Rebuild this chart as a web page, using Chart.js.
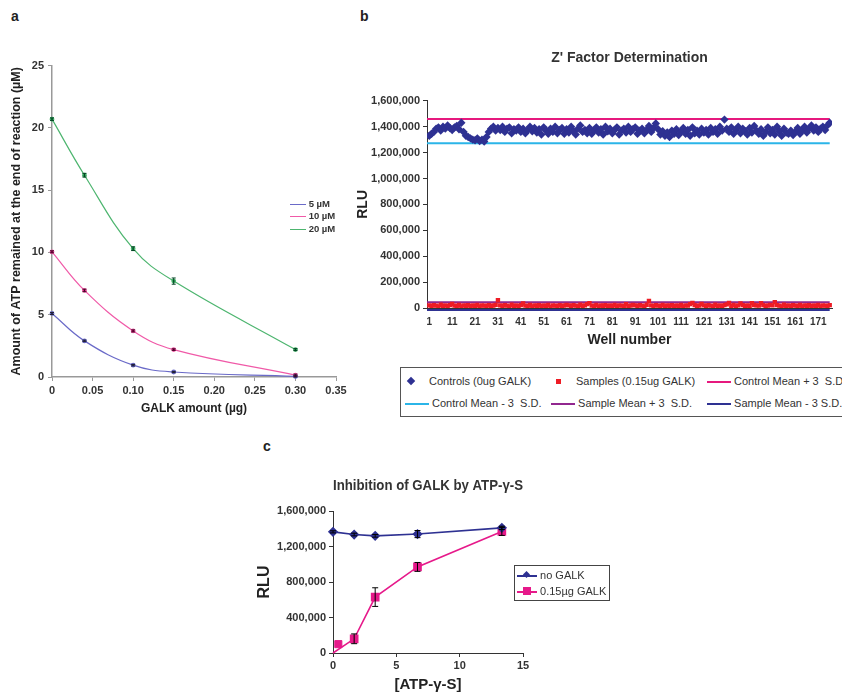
<!DOCTYPE html>
<html>
<head>
<meta charset="utf-8">
<script src="https://cdn.jsdelivr.net/npm/chart.js@4.4.1/dist/chart.umd.min.js"></script>
<style>
body{margin:0;width:842px;height:694px;position:relative;overflow:hidden;background:#fff;font-family:"Liberation Sans",Arial,sans-serif;color:#222}
.box{position:absolute}
.tag{position:absolute;font-weight:bold;font-size:14px;color:#222}
.lg{position:absolute;font-size:11px;color:#333;white-space:nowrap}
.lg .it{position:absolute;height:14px;line-height:14px}
.ln{display:inline-block;vertical-align:middle;height:2px}
.mk{position:absolute}
</style>
</head>
<body>
<div class="tag" style="left:11px;top:8px">a</div>
<div class="tag" style="left:360px;top:8px">b</div>
<div class="tag" style="left:263px;top:438px">c</div>

<div class="box" style="left:0;top:55px;width:350px;height:365px"><canvas id="chartA"></canvas></div>
<div class="box" style="left:350px;top:40px;width:492px;height:318px"><canvas id="chartB"></canvas></div>
<div class="box" style="left:250px;top:465px;width:285px;height:229px"><canvas id="chartC"></canvas></div>

<!-- legend a -->
<div class="lg" style="left:290px;top:197px;font-size:9.5px;font-weight:bold">
  <div class="it" style="left:0;top:0"><span class="ln" style="width:16px;height:1px;background:#6a6ac8"></span> 5 µM</div>
  <div class="it" style="left:0;top:12px"><span class="ln" style="width:16px;height:1px;background:#f05aa8"></span> 10 µM</div>
  <div class="it" style="left:0;top:25px"><span class="ln" style="width:16px;height:1px;background:#4db56f"></span> 20 µM</div>
</div>

<!-- legend b -->
<div class="lg" style="left:400px;top:367px;width:460px;height:48px;border:1px solid #555">
  <div class="it" style="left:6px;top:6px"><span class="mk" style="left:1px;top:4px;width:6px;height:6px;background:#2e3192;transform:rotate(45deg)"></span><span style="margin-left:22px">Controls (0ug GALK)</span></div>
  <div class="it" style="left:153px;top:6px"><span class="mk" style="left:2px;top:5px;width:5px;height:5px;background:#ee1c25"></span><span style="margin-left:22px">Samples (0.15ug GALK)</span></div>
  <div class="it" style="left:306px;top:6px"><span class="ln" style="width:24px;background:#e6197e"></span> Control Mean + 3&nbsp; S.D.</div>
  <div class="it" style="left:4px;top:28px"><span class="ln" style="width:24px;background:#2bb5e8"></span> Control Mean - 3&nbsp; S.D.</div>
  <div class="it" style="left:150px;top:28px"><span class="ln" style="width:24px;background:#92278f"></span> Sample Mean + 3&nbsp; S.D.</div>
  <div class="it" style="left:306px;top:28px"><span class="ln" style="width:24px;background:#2e3192"></span> Sample Mean - 3 S.D.</div>
</div>

<!-- legend c -->
<div class="lg" style="left:514px;top:565px;width:94px;height:34px;border:1px solid #444">
  <div class="it" style="left:2px;top:2px"><span class="ln" style="width:20px;background:#2e3192"></span><span class="mk" style="left:7px;top:4px;width:5px;height:5px;background:#2e3192;transform:rotate(45deg)"></span> no GALK</div>
  <div class="it" style="left:2px;top:18px"><span class="ln" style="width:20px;background:#e6198a"></span><span class="mk" style="left:6px;top:3px;width:8px;height:8px;background:#e6198a"></span> 0.15µg GALK</div>
</div>

<script>
// ---- panel a
const galkAmount = [0, 0.04, 0.1, 0.15, 0.3];
const atp5 = [5.1, 2.9, 0.95, 0.4, 0.05];
const atp10 = [10.05, 6.95, 3.7, 2.2, 0.15];
const atp20 = [20.7, 16.2, 10.3, 7.7, 2.2];
const err5 = [0.08, 0.06, 0.06, 0.05, 0.05];
const err10 = [0.08, 0.1, 0.08, 0.06, 0.08];
const err20 = [0.1, 0.15, 0.15, 0.25, 0.08];

// ---- panel b
const wellSpan = [0, 176];
const controls = [
  1330000,1345000,1360000,1385000,1395000,1370000,1400000,1385000,1410000,1390000,
  1375000,1395000,1405000,1380000,1430000,1360000,1330000,1320000,1310000,1300000,
  1295000,1310000,1290000,1300000,1285000,1320000,1360000,1385000,1400000,1370000,
  1390000,1375000,1400000,1360000,1385000,1395000,1350000,1380000,1370000,1395000,
  1360000,1385000,1350000,1375000,1400000,1365000,1390000,1355000,1380000,1340000,
  1395000,1370000,1345000,1385000,1360000,1400000,1350000,1375000,1390000,1345000,
  1380000,1355000,1400000,1365000,1340000,1385000,1410000,1360000,1375000,1350000,
  1390000,1345000,1370000,1395000,1355000,1380000,1340000,1400000,1365000,1385000,
  1350000,1375000,1395000,1340000,1370000,1385000,1355000,1400000,1360000,1380000,
  1395000,1345000,1370000,1385000,1350000,1375000,1405000,1360000,1390000,1425000,
  1380000,1340000,1365000,1330000,1355000,1320000,1370000,1345000,1380000,1335000,
  1360000,1390000,1345000,1375000,1330000,1395000,1350000,1370000,1340000,1385000,
  1355000,1375000,1340000,1390000,1360000,1380000,1345000,1400000,1370000,1455000,
  1385000,1360000,1395000,1345000,1375000,1400000,1350000,1385000,1365000,1340000,
  1390000,1355000,1405000,1370000,1345000,1380000,1330000,1360000,1395000,1350000,
  1375000,1340000,1400000,1365000,1330000,1385000,1355000,1345000,1370000,1335000,
  1360000,1390000,1345000,1375000,1400000,1355000,1385000,1410000,1370000,1395000,
  1360000,1385000,1400000,1375000,1410000,1430000
];
const samples = [
  20000,15000,22000,18000,12000,25000,16000,20000,14000,22000,
  32000,18000,15000,24000,12000,20000,17000,22000,14000,19000,
  16000,23000,12000,20000,18000,15000,22000,14000,19000,24000,
  60000,20000,15000,22000,18000,12000,25000,16000,20000,14000,
  22000,35000,18000,15000,24000,12000,20000,17000,22000,14000,
  19000,16000,23000,8000,20000,18000,15000,22000,14000,19000,
  24000,20000,15000,22000,18000,12000,25000,16000,20000,30000,
  38000,18000,15000,24000,12000,20000,17000,22000,14000,19000,
  16000,23000,12000,20000,18000,15000,30000,14000,19000,24000,
  20000,15000,22000,18000,12000,25000,55000,20000,14000,22000,
  18000,15000,24000,12000,20000,17000,22000,14000,19000,16000,
  23000,12000,20000,18000,30000,40000,22000,14000,19000,32000,
  20000,15000,22000,18000,12000,25000,16000,20000,14000,22000,
  28000,40000,15000,24000,12000,20000,35000,22000,14000,19000,
  16000,38000,23000,20000,18000,38000,22000,14000,19000,24000,
  20000,45000,22000,18000,12000,25000,16000,20000,14000,22000,
  18000,15000,24000,12000,20000,17000,22000,14000,19000,16000,
  23000,12000,20000,18000,15000,22000
];
const ctrlPlus3SD = 1460000;
const ctrlMinus3SD = 1272000;
const smplPlus3SD = 44000;
const smplMinus3SD = -16000;
const wellTicks = [1, 11, 21, 31, 41, 51, 61, 71, 81, 91, 101, 111, 121, 131, 141, 151, 161, 171];

// ---- panel c
const atpGS = [0, 1.67, 3.33, 6.67, 13.33];
const noGalk = [1365000, 1335000, 1320000, 1340000, 1410000];
const noGalkErr = [12000, 15000, 15000, 40000, 18000];
const galk015 = [0, 160000, 630000, 970000, 1370000];
const galk015Err = [0, 55000, 105000, 50000, 45000];
const strayX = [0.42];
const strayY = [100000];

Chart.defaults.font.family = '"Liberation Sans", Arial, sans-serif';
Chart.defaults.color = '#333';
Chart.defaults.animation = false;

const errorBars = {
  id: 'errorBars',
  afterDatasetsDraw(chart) {
    const ctx = chart.ctx;
    const ys = chart.scales.y;
    chart.data.datasets.forEach((ds, i) => {
      if (!ds.err) return;
      const meta = chart.getDatasetMeta(i);
      ctx.save();
      ctx.strokeStyle = ds.errColor || '#000';
      ctx.lineWidth = ds.errWidth || 1;
      meta.data.forEach((pt, j) => {
        const e = ds.err[j];
        if (!e) return;
        const v = ds.data[j].y;
        const top = ys.getPixelForValue(v + e);
        const bot = ys.getPixelForValue(v - e);
        const w = ds.capWidth || 2;
        ctx.beginPath();
        ctx.moveTo(pt.x, top); ctx.lineTo(pt.x, bot);
        ctx.moveTo(pt.x - w, top); ctx.lineTo(pt.x + w, top);
        ctx.moveTo(pt.x - w, bot); ctx.lineTo(pt.x + w, bot);
        ctx.stroke();
      });
      ctx.restore();
    });
  }
};

function pts(xs, ys) {
  return xs.map((x, i) => ({ x: x, y: ys[i] }));
}

// ---------- chart a
new Chart(document.getElementById('chartA'), {
  type: 'line',
  data: {
    datasets: [
      { label: '5 µM', data: pts(galkAmount, atp5), err: err5, errColor: '#223', borderColor: '#6a6ac8', backgroundColor: '#2d2d8f', borderWidth: 1.2, pointRadius: 1.8, tension: 0.4, clip: false },
      { label: '10 µM', data: pts(galkAmount, atp10), err: err10, errColor: '#402', borderColor: '#f05aa8', backgroundColor: '#c8106e', borderWidth: 1.2, pointRadius: 1.8, tension: 0.4, clip: false },
      { label: '20 µM', data: pts(galkAmount, atp20), err: err20, errColor: '#042', borderColor: '#4db56f', backgroundColor: '#1e8c4a', borderWidth: 1.2, pointRadius: 1.8, tension: 0.4, clip: false }
    ]
  },
  options: {
    responsive: true, maintainAspectRatio: false,
    layout: { padding: { left: 0, right: 14, top: 7, bottom: 0 } },
    plugins: { legend: { display: false }, tooltip: { enabled: false } },
    scales: {
      x: {
        type: 'linear', min: 0, max: 0.35,
        ticks: { stepSize: 0.05, padding: 3, font: { size: 11, weight: 'bold' }, color: '#333' },
        grid: { drawOnChartArea: false, tickLength: 4, color: '#999' },
        border: { color: '#999', width: 1.5 },
        title: { display: true, text: 'GALK amount (µg)', font: { size: 12, weight: 'bold' }, color: '#222', padding: { top: 0, bottom: 4 } },
        afterFit: s => { s.height = 43; }
      },
      y: {
        min: 0, max: 25,
        ticks: { stepSize: 5, padding: 4, font: { size: 11, weight: 'bold' }, color: '#333' },
        grid: { drawOnChartArea: false, tickLength: 4, color: '#999' },
        border: { color: '#999', width: 1.5 },
        title: { display: true, text: 'Amount of ATP remained at the end of reaction (µM)', font: { size: 12.5, weight: 'bold' }, color: '#222', padding: { top: 9, bottom: 0 } },
        afterFit: s => { s.width = 52; }
      }
    }
  },
  plugins: [errorBars]
});

// ---------- chart b
const hline = v => wellSpan.map(x => ({ x: x, y: v }));
new Chart(document.getElementById('chartB'), {
  type: 'scatter',
  data: {
    datasets: [
      { label: 'Controls (0ug GALK)', data: controls.map((v, i) => ({ x: i + 1, y: v })), pointStyle: 'rectRot', pointRadius: 4.2, backgroundColor: '#2e3192', borderColor: '#2e3192', borderWidth: 0, order: 1 },
      { label: 'Samples (0.15ug GALK)', data: samples.map((v, i) => ({ x: i + 1, y: v })), pointStyle: 'rect', pointRadius: 3.1, backgroundColor: '#ee1c25', borderColor: '#ee1c25', borderWidth: 0, order: 2 },
      { label: 'Control Mean + 3  S.D.', data: hline(ctrlPlus3SD), showLine: true, pointRadius: 0, borderColor: '#e6197e', borderWidth: 2, order: 5 },
      { label: 'Control Mean - 3  S.D.', data: hline(ctrlMinus3SD), showLine: true, pointRadius: 0, borderColor: '#2bb5e8', borderWidth: 2, order: 5 },
      { label: 'Sample Mean + 3  S.D.', data: hline(smplPlus3SD), showLine: true, pointRadius: 0, borderColor: '#92278f', borderWidth: 2, order: 5 },
      { label: 'Sample Mean - 3 S.D.', data: hline(smplMinus3SD), showLine: true, pointRadius: 0, borderColor: '#2e3192', borderWidth: 2, order: 5, clip: false }
    ]
  },
  options: {
    responsive: true, maintainAspectRatio: false,
    layout: { padding: { left: 0, right: 10, top: 0, bottom: 0 } },
    plugins: {
      legend: { display: false }, tooltip: { enabled: false },
      title: { display: true, text: "Z' Factor Determination", fullSize: false, font: { size: 14, weight: 'bold' }, color: '#333', padding: { top: 10, bottom: 34 } }
    },
    scales: {
      x: {
        type: 'linear', min: 0, max: 177,
        afterBuildTicks: s => { s.ticks = wellTicks.map(v => ({ value: v })); },
        ticks: { padding: 5, autoSkip: false, maxRotation: 0, font: { size: 10, weight: 'bold' }, color: '#333' },
        grid: { drawOnChartArea: false, tickLength: 3, color: '#333' },
        border: { color: '#333', width: 1 },
        title: { display: true, text: 'Well number', font: { size: 14, weight: 'bold' }, color: '#222', padding: { top: 0, bottom: 9 } },
        afterFit: s => { s.height = 50; }
      },
      y: {
        min: 0, max: 1600000,
        ticks: { stepSize: 200000, padding: 3, font: { size: 11, weight: 'bold' }, color: '#333', callback: v => v.toLocaleString('en-US') },
        grid: { drawOnChartArea: false, tickLength: 4, color: '#333' },
        border: { color: '#333', width: 1 },
        title: { display: true, text: 'RLU', font: { size: 14, weight: 'bold' }, color: '#222', padding: { top: 5, bottom: 0 } },
        afterFit: s => { s.width = 77; }
      }
    }
  }
});

// ---------- chart c
new Chart(document.getElementById('chartC'), {
  type: 'scatter',
  data: {
    datasets: [
      { label: 'no GALK', data: pts(atpGS, noGalk), err: noGalkErr, capWidth: 3, showLine: true, pointStyle: 'rectRot', pointRadius: 4, borderColor: '#2e3192', backgroundColor: '#2e3192', borderWidth: 1.6, clip: false, order: 1 },
      { label: '0.15µg GALK', data: pts(atpGS, galk015), err: galk015Err, capWidth: 3, showLine: true, pointStyle: 'rect', pointRadius: [0, 5, 5, 5, 5], borderColor: '#e6198a', backgroundColor: '#e6198a', borderWidth: 1.6, clip: false, order: 2 },
      { label: 'stray', data: pts(strayX, strayY), pointStyle: 'rect', pointRadius: 5, backgroundColor: '#e6198a', borderColor: '#e6198a', clip: false, order: 3 }
    ]
  },
  options: {
    responsive: true, maintainAspectRatio: false,
    layout: { padding: { left: 0, right: 12, top: 0, bottom: 0 } },
    plugins: {
      legend: { display: false }, tooltip: { enabled: false },
      title: { display: true, text: 'Inhibition of GALK by ATP-γ-S', fullSize: false, font: { size: 15, weight: 'bold' }, color: '#333', padding: { top: 12, bottom: 16 } }
    },
    scales: {
      x: {
        type: 'linear', min: 0, max: 15,
        ticks: { stepSize: 5, padding: 2, font: { size: 11, weight: 'bold' }, color: '#333' },
        grid: { drawOnChartArea: false, tickLength: 4, color: '#333' },
        border: { color: '#333', width: 1 },
        title: { display: true, text: '[ATP-γ-S]', font: { size: 15, weight: 'bold' }, color: '#222', padding: { top: 0, bottom: 0 } },
        afterFit: s => { s.height = 41; }
      },
      y: {
        min: 0, max: 1600000,
        ticks: { stepSize: 400000, padding: 3, font: { size: 11, weight: 'bold' }, color: '#333', callback: v => v.toLocaleString('en-US') },
        grid: { drawOnChartArea: false, tickLength: 4, color: '#333' },
        border: { color: '#333', width: 1 },
        title: { display: true, text: 'RLU', font: { size: 16, weight: 'bold' }, color: '#222', padding: { top: 5, bottom: 0 } },
        afterFit: s => { s.width = 83; }
      }
    }
  },
  plugins: [errorBars]
});
</script>
</body>
</html>
